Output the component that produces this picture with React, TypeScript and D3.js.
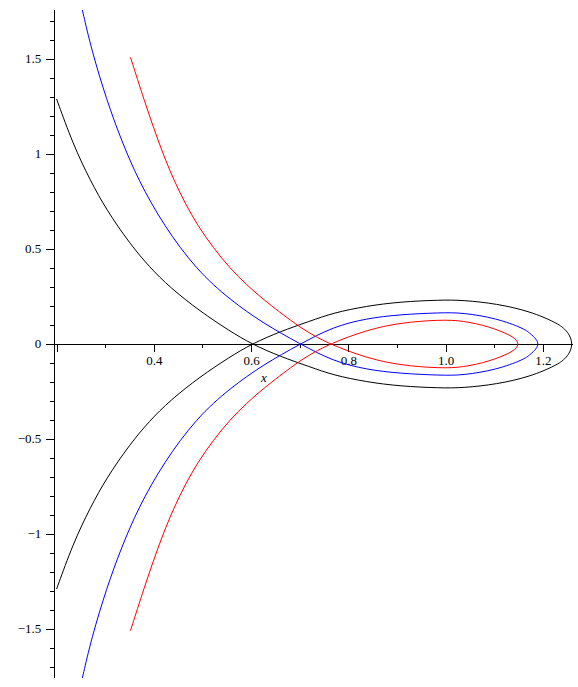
import React, { useEffect, useRef } from 'react';
import * as d3 from 'd3';

// curves, each traced in drawing order:
// upper-left branch -> crossing -> lower half of loop -> tip -> upper half -> crossing -> lower-left branch
const blackCurve: [number, number][] = [
  [0.199, 1.290], [0.233, 1.050], [0.268, 0.862], [0.302, 0.704], [0.350, 0.527],
  [0.390, 0.405], [0.432, 0.298], [0.494, 0.172], [0.556, 0.067], [0.600, 0],
  [0.659, -0.066], [0.720, -0.120], [0.768, -0.164], [0.837, -0.200], [0.905, -0.222],
  [0.988, -0.232], [1.035, -0.231], [1.104, -0.212], [1.173, -0.172], [1.228, -0.111],
  [1.245, -0.078], [1.255, -0.044], [1.260, 0],
  [1.255, 0.044], [1.245, 0.078], [1.228, 0.111], [1.173, 0.172], [1.104, 0.212],
  [1.035, 0.231], [0.988, 0.232], [0.905, 0.222], [0.837, 0.200], [0.768, 0.164],
  [0.720, 0.120], [0.659, 0.066], [0.600, 0],
  [0.556, -0.067], [0.494, -0.172], [0.432, -0.298], [0.390, -0.405], [0.350, -0.527],
  [0.302, -0.704], [0.268, -0.862], [0.233, -1.050], [0.199, -1.290],
];

const blueCurve: [number, number][] = [
  [0.252, 1.758], [0.271, 1.547], [0.302, 1.284], [0.332, 1.074], [0.367, 0.863],
  [0.419, 0.625], [0.487, 0.389], [0.556, 0.232], [0.624, 0.109], [0.700, 0],
  [0.768, -0.091], [0.837, -0.135], [0.905, -0.155], [0.988, -0.165], [1.035, -0.165],
  [1.104, -0.135], [1.159, -0.083], [1.173, -0.056], [1.186, -0.025], [1.190, 0],
  [1.186, 0.025], [1.173, 0.056], [1.159, 0.083], [1.104, 0.135], [1.035, 0.165],
  [0.988, 0.165], [0.905, 0.155], [0.837, 0.135], [0.768, 0.091], [0.700, 0],
  [0.624, -0.109], [0.556, -0.232], [0.487, -0.389], [0.419, -0.625], [0.367, -0.863],
  [0.332, -1.074], [0.302, -1.284], [0.271, -1.547], [0.252, -1.758],
];

const redCurve: [number, number][] = [
  [0.351, 1.509], [0.379, 1.284], [0.407, 1.074], [0.439, 0.863], [0.487, 0.621],
  [0.556, 0.389], [0.624, 0.232], [0.693, 0.100], [0.720, 0.056], [0.760, 0],
  [0.837, -0.074], [0.905, -0.112], [0.988, -0.128], [1.035, -0.123], [1.090, -0.091],
  [1.132, -0.047], [1.145, -0.022], [1.149, 0],
  [1.145, 0.022], [1.132, 0.047], [1.090, 0.091], [1.035, 0.123], [0.988, 0.128],
  [0.905, 0.112], [0.837, 0.074], [0.760, 0],
  [0.720, -0.056], [0.693, -0.100], [0.624, -0.232], [0.556, -0.389], [0.487, -0.621],
  [0.439, -0.863], [0.407, -1.074], [0.379, -1.284], [0.351, -1.509],
];

const curves = [
  { name: 'black', color: '#000000', points: blackCurve },
  { name: 'blue', color: '#0000ff', points: blueCurve },
  { name: 'red', color: '#ff0000', points: redCurve },
];

const xMajorTicks = [0.2, 0.4, 0.6, 0.8, 1.0, 1.2];
const xMinorTicks = [0.3, 0.5, 0.7, 0.9, 1.1];
const xTickLabels = ['', '0.4', '0.6', '0.8', '1.0', '1.2'];
const yMajorTicks = [-1.5, -1, -0.5, 0, 0.5, 1, 1.5];
const yTickLabels = ['\u22121.5', '\u22121', '\u22120.5', '0', '0.5', '1', '1.5'];
const yMinorTicks = [-1.7, -1.6, -1.4, -1.3, -1.2, -1.1, -0.9, -0.8, -0.7, -0.6, -0.4, -0.3, -0.2, -0.1,
  0.1, 0.2, 0.3, 0.4, 0.6, 0.7, 0.8, 0.9, 1.1, 1.2, 1.3, 1.4, 1.6, 1.7];

const xView = [0.1943, 1.262];
const yView = [-1.76, 1.76];

const width = 578;
const height = 687;

const App = () => {
  const svgRef = useRef<SVGSVGElement>(null);

  useEffect(() => {
    const svg = d3.select(svgRef.current);
    svg.selectAll('*').remove();

    const x = d3.scaleLinear().domain([0.4, 1.2]).range([154.3, 543.3]);
    const y = d3.scaleLinear().domain([1.5, -1.5]).range([59, 629]);

    const font = "'Liberation Serif', 'Times New Roman', Times, serif";
    const g = svg.append('g');

    // y axis (crosses at the left of the view)
    const ax = x(xView[0]);
    g.append('line')
      .attr('x1', ax).attr('x2', ax)
      .attr('y1', y(yView[1])).attr('y2', y(yView[0]))
      .attr('stroke', '#000').attr('shape-rendering', 'crispEdges');
    g.selectAll('.ymaj').data(yMajorTicks).join('line')
      .attr('x1', ax - 8).attr('x2', ax)
      .attr('y1', d => y(d)).attr('y2', d => y(d))
      .attr('stroke', '#000').attr('shape-rendering', 'crispEdges');
    g.selectAll('.ymin').data(yMinorTicks).join('line')
      .attr('x1', ax - 4).attr('x2', ax)
      .attr('y1', d => y(d)).attr('y2', d => y(d))
      .attr('stroke', '#000').attr('shape-rendering', 'crispEdges');
    g.selectAll('.ylab').data(yMajorTicks).join('text')
      .attr('x', ax - 13).attr('y', d => y(d))
      .attr('dy', '0.34em')
      .attr('text-anchor', 'end')
      .attr('font-family', font).attr('font-size', 13)
      .text((d, i) => yTickLabels[i]);

    // x axis at y = 0
    const ay = y(0);
    g.append('line')
      .attr('x1', ax).attr('x2', x(xView[1]))
      .attr('y1', ay).attr('y2', ay)
      .attr('stroke', '#000').attr('shape-rendering', 'crispEdges');
    g.selectAll('.xmaj').data(xMajorTicks).join('line')
      .attr('x1', d => x(d)).attr('x2', d => x(d))
      .attr('y1', ay).attr('y2', ay + 8)
      .attr('stroke', '#000').attr('shape-rendering', 'crispEdges');
    g.selectAll('.xmin').data(xMinorTicks).join('line')
      .attr('x1', d => x(d)).attr('x2', d => x(d))
      .attr('y1', ay).attr('y2', ay + 4)
      .attr('stroke', '#000').attr('shape-rendering', 'crispEdges');
    g.selectAll('.xlab').data(xMajorTicks).join('text')
      .attr('x', d => x(d)).attr('y', ay + 21)
      .attr('text-anchor', 'middle')
      .attr('font-family', font).attr('font-size', 13)
      .text((d, i) => xTickLabels[i]);

    g.append('text')
      .attr('x', 264).attr('y', ay + 38)
      .attr('text-anchor', 'middle')
      .attr('font-family', font).attr('font-size', 13)
      .attr('font-style', 'italic')
      .text('x');

    // curves (B-spline through the traced points smooths out reading noise)
    const line = d3.line<[number, number]>()
      .x(d => x(d[0]))
      .y(d => y(d[1]))
      .curve(d3.curveBasis);

    g.selectAll('.curve').data(curves).join('path')
      .attr('d', d => line(d.points))
      .attr('fill', 'none')
      .attr('stroke', d => d.color)
      .attr('stroke-width', 1);
  }, []);

  return (
    <svg ref={svgRef} width={width} height={height}
      style={{ position: 'absolute', left: 0, top: 0, background: '#fff' }} />
  );
};

export default App;
